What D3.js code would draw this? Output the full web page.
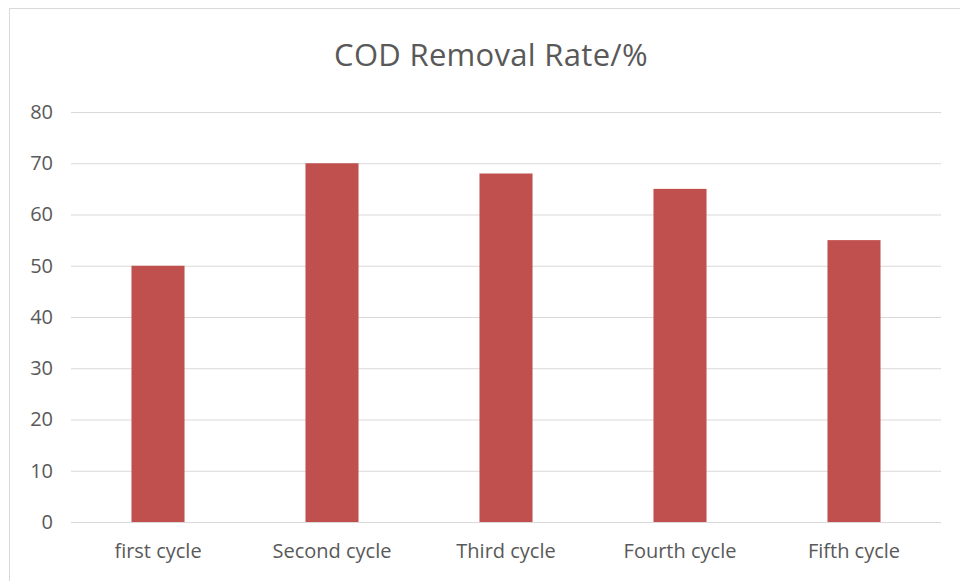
<!DOCTYPE html>
<html>
<head>
<meta charset="utf-8">
<script src="https://cdn.jsdelivr.net/npm/d3@7"></script>
<style>
  body { margin: 0; background: #fff; }
  svg { display: block; font-family: "Open Sans", Lato, sans-serif; }
</style>
</head>
<body>
<svg id="chart" width="960" height="581"></svg>
<script>
// chart data
const categories = ['first cycle', 'Second cycle', 'Third cycle', 'Fourth cycle', 'Fifth cycle'];
const removalRate = [50, 70, 68, 65, 55];
const yTicks = [0, 10, 20, 30, 40, 50, 60, 70, 80];
const title = 'COD Removal Rate/%';

const svg = d3.select('#chart');
const margin = { left: 71, right: 19, top: 112, bottom: 59 };
const width = 960 - margin.left - margin.right;
const height = 581 - margin.top - margin.bottom;

// chart area border (runs past the right/bottom edge like the screenshot)
svg.append('rect')
    .attr('x', 9.5).attr('y', 8.5)
    .attr('width', 1000).attr('height', 1000)
    .attr('fill', 'none')
    .attr('stroke', '#d9d9d9');

svg.append('text')
    .attr('x', 491).attr('y', 66)
    .attr('text-anchor', 'middle')
    .attr('font-size', 31)
    .attr('letter-spacing', 0.3)
    .attr('fill', '#595959')
    .text(title);

const g = svg.append('g').attr('transform', `translate(${margin.left},${margin.top})`);

const x = d3.scaleBand()
    .domain(categories)
    .range([0, width])
    .paddingInner(0.695)
    .paddingOuter(0.3475);

const y = d3.scaleLinear().domain([0, 80]).range([height, 0]);

// gridlines
g.append('g')
    .call(d3.axisLeft(y).tickValues(yTicks).tickSize(-width).tickFormat(''))
    .call(a => a.select('.domain').remove())
    .call(a => a.selectAll('line').attr('stroke', '#d9d9d9'));

// y labels
g.append('g')
    .call(d3.axisLeft(y).tickValues(yTicks).tickSize(0).tickPadding(18))
    .call(a => a.select('.domain').remove())
    .call(a => a.selectAll('text')
        .attr('font-size', 20)
        .attr('font-family', '"Open Sans", Lato, sans-serif')
        .attr('fill', '#595959'));

g.selectAll('rect.bar')
    .data(removalRate)
    .enter()
    .append('rect')
    .attr('class', 'bar')
    .attr('x', (d, i) => x(categories[i]))
    .attr('y', d => y(d))
    .attr('width', x.bandwidth())
    .attr('height', d => height - y(d))
    .attr('fill', '#c0504d');

// x labels
g.append('g')
    .attr('transform', `translate(0,${height})`)
    .call(d3.axisBottom(x).tickSize(0).tickPadding(22))
    .call(a => a.select('.domain').remove())
    .call(a => a.selectAll('text')
        .attr('font-size', 20)
        .attr('font-family', '"Open Sans", Lato, sans-serif')
        .attr('fill', '#595959'));
</script>
</body>
</html>
